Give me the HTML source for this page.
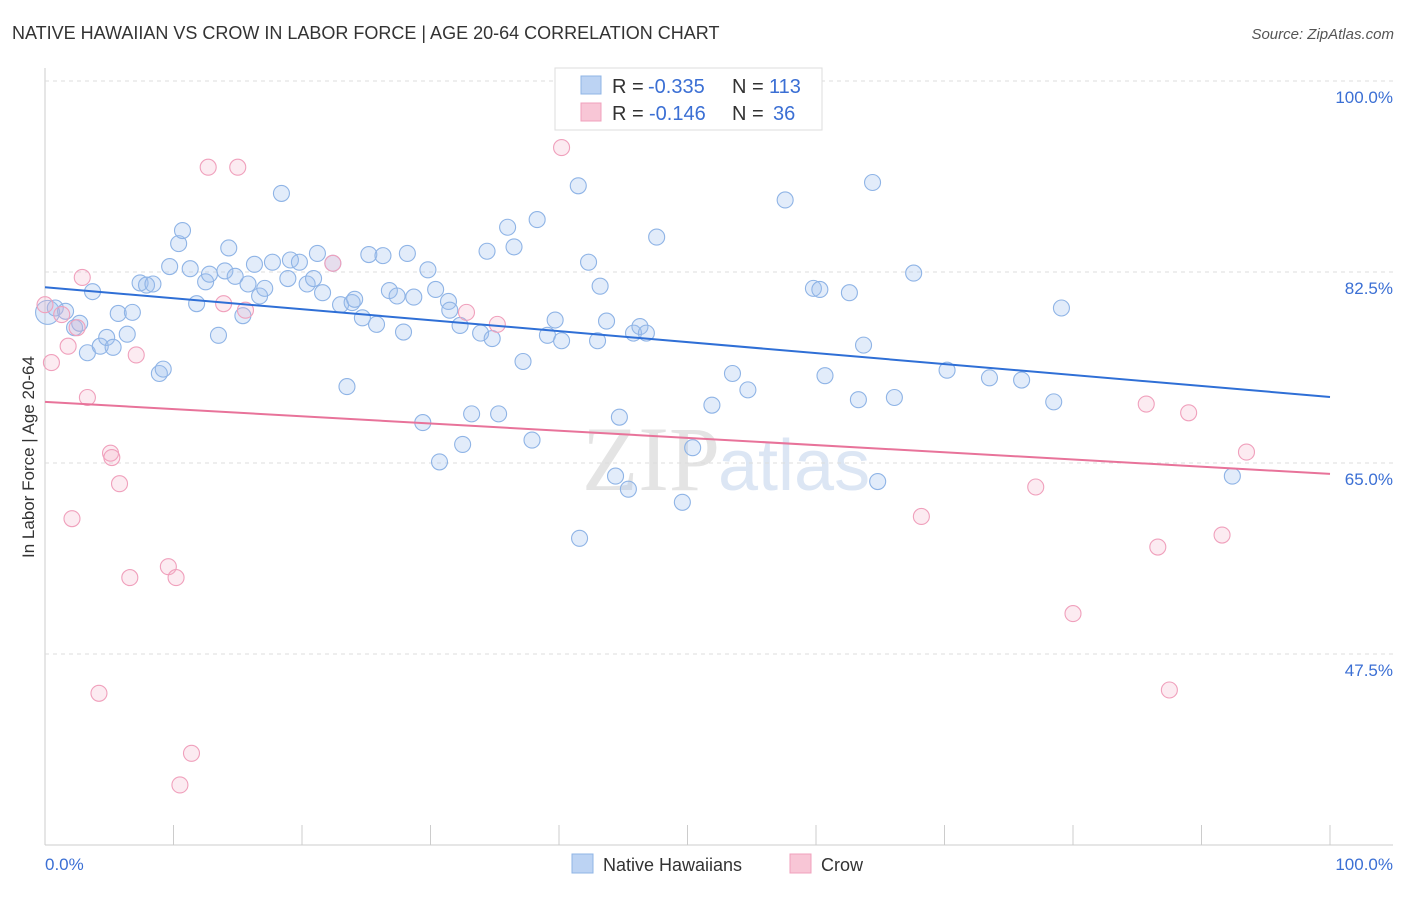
<!DOCTYPE html>
<html><head><meta charset="utf-8"><style>
body{margin:0;background:#fff;font-family:"Liberation Sans",sans-serif}
</style></head><body>
<svg id="c" width="1406" height="892" xmlns="http://www.w3.org/2000/svg">
<text x="12" y="39" font-size="18" fill="#333">NATIVE HAWAIIAN VS CROW IN LABOR FORCE | AGE 20-64 CORRELATION CHART</text>
<text x="1394" y="39" font-size="15" fill="#555" text-anchor="end" font-style="italic">Source: ZipAtlas.com</text>
<text x="720" y="490" font-size="92" fill="#e4e4e4" text-anchor="end" font-family="Liberation Serif,serif">ZIP</text>
<text x="718" y="490" font-size="72" fill="#dce6f4">atlas</text>
<g id="grid"></g><g id="pts"></g><g id="lines"></g>
<text transform="translate(34,457) rotate(-90)" font-size="17" fill="#333" text-anchor="middle">In Labor Force | Age 20-64</text>
<text x="45" y="870" font-size="17" fill="#3b6fd4">0.0%</text>
<text x="1393" y="870" font-size="17" fill="#3b6fd4" text-anchor="end">100.0%</text>
<g>
<rect x="555" y="68" width="267" height="62" fill="#fff" stroke="#ddd"/>
<rect x="581" y="76" width="20" height="18" fill="#bcd3f3" stroke="#8fb4e6"/>
<rect x="581" y="103" width="20" height="18" fill="#f8c6d6" stroke="#f0a0bc"/>
<text y="93" font-size="20" fill="#333"><tspan x="612">R =</tspan><tspan x="648" fill="#3b6fd4">-0.335</tspan><tspan x="732">N =</tspan><tspan x="769" fill="#3b6fd4">113</tspan></text>
<text y="120" font-size="20" fill="#333"><tspan x="612">R =</tspan><tspan x="649" fill="#3b6fd4">-0.146</tspan><tspan x="732">N =</tspan><tspan x="773" fill="#3b6fd4">36</tspan></text>
</g>
<g>
<rect x="572" y="854" width="21" height="19" fill="#bcd3f3" stroke="#8fb4e6"/>
<text x="603" y="871" font-size="18" fill="#333">Native Hawaiians</text>
<rect x="790" y="854" width="21" height="19" fill="#f8c6d6" stroke="#f0a0bc"/>
<text x="821" y="871" font-size="18" fill="#333">Crow</text>
</g>
</svg>
<script>
const blueX=[0.2,0.8,1.6,2.3,2.7,3.3,3.7,4.3,4.8,5.3,5.7,6.4,6.8,7.4,7.9,8.4,8.9,9.2,9.7,10.4,10.7,11.3,11.8,12.5,12.8,13.5,14.3,14.0,14.8,15.4,15.8,16.3,16.7,17.1,17.7,18.4,18.9,19.1,19.8,20.4,20.9,21.2,21.6,22.4,23.0,23.5,23.9,24.1,24.7,25.2,25.8,26.3,26.8,27.4,27.9,28.2,28.7,29.4,29.8,30.4,30.7,31.4,31.5,32.3,32.5,33.2,33.9,34.4,34.8,35.3,36.0,36.5,37.2,37.9,38.3,39.1,39.7,40.2,41.5,41.6,42.3,43.0,43.2,43.7,44.4,44.7,45.4,45.8,46.3,46.8,47.6,49.6,50.4,51.9,53.5,54.7,57.6,59.8,60.3,60.7,62.6,63.3,63.7,64.4,64.8,66.1,67.6,70.2,73.5,76.0,78.5,79.1,92.4];
const blueY=[78.8,79.2,78.9,77.4,77.8,75.1,80.7,75.7,76.5,75.6,78.7,76.8,78.8,81.5,81.3,81.4,73.2,73.6,83.0,85.1,86.3,82.8,79.6,81.6,82.3,76.7,84.7,82.6,82.1,78.5,81.4,83.2,80.3,81.0,83.4,89.7,81.9,83.6,83.4,81.4,81.9,84.2,80.6,83.3,79.5,72.0,79.7,80.0,78.3,84.1,77.7,84.0,80.8,80.3,77.0,84.2,80.2,68.7,82.7,80.9,65.1,79.8,79.0,77.6,66.7,69.5,76.9,84.4,76.4,69.5,86.6,84.8,74.3,67.1,87.3,76.7,78.1,76.2,90.4,58.1,83.4,76.2,81.2,78.0,63.8,69.2,62.6,76.9,77.5,76.9,85.7,61.4,66.4,70.3,73.2,71.7,89.1,81.0,80.9,73.0,80.6,70.8,75.8,90.7,63.3,71.0,82.4,73.5,72.8,72.6,70.6,79.2,63.8];
const pinkX=[0,0.5,1.3,1.8,2.1,2.5,2.9,3.3,4.2,5.1,5.2,5.8,6.6,7.1,9.6,10.2,10.5,11.4,12.7,13.9,15.0,15.6,22.4,32.8,35.2,40.2,56.4,68.2,77.1,80.0,85.7,86.6,87.5,89.0,91.6,93.5];
const pinkY=[79.5,74.2,78.6,75.7,59.9,77.4,82.0,71.0,43.9,65.9,65.5,63.1,54.5,74.9,55.5,54.5,35.5,38.4,92.1,79.6,92.1,79.0,83.3,78.8,77.7,93.9,100.3,60.1,62.8,51.2,70.4,57.3,44.2,69.6,58.4,66.0];
const yTicks=[100,82.5,65,47.5];
const yTickLabels=["100.0%","82.5%","65.0%","47.5%"];
const xTicks=[0,10,20,30,40,50,60,70,80,90,100];
const blueTrend=[81.1,71.05];
const pinkTrend=[70.6,64.0];
const NS='http://www.w3.org/2000/svg';
const sx=v=>45+v*12.85, sy=v=>81+(100-v)*10.914;
function mk(t,a,p){const e=document.createElementNS(NS,t);for(const k in a)e.setAttribute(k,a[k]);p.appendChild(e);return e;}
const g=document.getElementById('grid');
const ax=mk('line',{x1:45,y1:68,x2:45,y2:845,stroke:'#ccc'},g);

const bx=mk('line',{x1:45,y1:845,x2:1393,y2:845,stroke:'#ccc'},g);

yTicks.forEach((v,i)=>{
 const l=mk('line',{x1:45,y1:sy(v),x2:1393,y2:sy(v),stroke:'#ddd','stroke-dasharray':'4,4'},g);
 
 const t=mk('text',{x:1393,y:sy(v)+22,'font-size':17,fill:'#3b6fd4','text-anchor':'end'},g);t.textContent=yTickLabels[i];
 
});
xTicks.forEach(v=>{const l=mk('line',{x1:sx(v),y1:825,x2:sx(v),y2:845,stroke:'#ccc'},g);
 });
const P=document.getElementById('pts');
blueX.forEach((x,i)=>{const c=mk('circle',{cx:sx(x),cy:sy(blueY[i]),r:i==0?12:8,fill:'rgba(160,192,238,0.3)',stroke:'#8fb4e6','stroke-width':1.1},P);
 });
pinkX.forEach((x,i)=>{const c=mk('circle',{cx:sx(x),cy:sy(pinkY[i]),r:8,fill:'rgba(245,175,198,0.25)',stroke:'#f0a0bc','stroke-width':1.1},P);
 });
const L=document.getElementById('lines');
const b=mk('line',{x1:sx(0),y1:sy(blueTrend[0]),x2:sx(100),y2:sy(blueTrend[1]),stroke:'#2f6fd6','stroke-width':2},L);

const p=mk('line',{x1:sx(0),y1:sy(pinkTrend[0]),x2:sx(100),y2:sy(pinkTrend[1]),stroke:'#e8739a','stroke-width':2},L);

</script>
</body></html>
